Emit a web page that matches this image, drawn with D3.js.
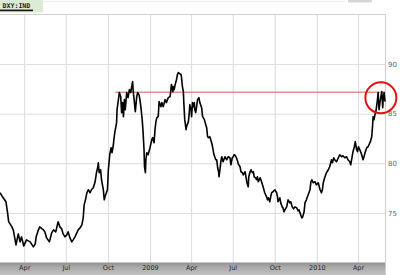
<!DOCTYPE html>
<html><head><meta charset="utf-8">
<script src="https://cdn.jsdelivr.net/npm/d3@7"></script>
<style>body{margin:0;background:#fff}svg{display:block}</style>
</head><body>
<svg id="c" width="400" height="275"></svg>
<script>
const symbol = "DXY:IND";
const startDate = "2008-02-08";
const endDate = "2010-05-30";
// trading days, as day offsets from startDate
const dayOffsets = [
0,7,13,16,19,22,26,29,35,40,44,47,52,58,66,73,77,79,84,87,92,95,98,102,108,113,117,122,127,131,135,138,142,
146,149,153,157,160,164,168,171,175,179,182,184,187,190,193,197,200,204,208,211,214,215,217,220,222,226,228,231,235,237,239,240,243,245,248,249,
251,255,256,259,261,264,266,268,270,272,274,277,280,283,286,288,290,291,294,296,299,301,304,306,308,311,313,315,316,318,319,321,324,328,332,334,337,339,341,343,346,348,352,354,357,361,364,368,372,
373,375,378,379,381,383,385,386,388,390,393,396,397,399,401,402,404,407,408,412,414,415,418,419,421,423,425,426,428,430,432,435,437,441,443,447,450,452,454,456,459,461,464,466,468,472,474,476,478,479,481,483,485,488,492,496,499,503,
505,508,510,512,515,517,520,521,525,527,530,532,536,538,540,543,544,547,549,552,554,556,559,561,563,565,567,569,572,576,579,583,585,587,590,592,594,597,601,605,607,608,612,614,617,619,621,623,627,630,634,636,639,642,645,649,652,654,657,660,662,665,
667,670,674,678,680,682,685,689,692,696,700,703,705,707,710,714,718,721,725,727,730,732,736,740,743,
747,750,754,758,761,765,767,769,772,775,777,780,782,784,787,791,794,796,799,802,805,807,810,813,815,816,818,820,822,825,827,829,831,833,835,837,838,840,842
];
const dxyValues = [
77.03,76.52,76.12,75.21,74.10,73.89,73.59,73.29,71.77,72.88,72.08,72.58,71.67,72.28,72.08,71.57,71.87,72.58,73.29,73.59,73.39,73.29,73.09,72.48,72.08,72.98,73.29,73.09,74.10,73.59,73.39,72.88,72.58,
72.78,73.09,72.48,72.08,72.28,72.58,72.98,73.29,73.49,73.79,74.50,75.81,76.32,77.03,77.33,77.03,77.33,77.53,78.14,79.05,79.65,80.06,79.05,79.35,78.34,77.33,76.32,76.82,77.33,79.35,80.36,80.86,81.57,81.07,81.87,82.38,
83.09,84.10,85.41,86.42,87.13,86.72,85.11,86.12,84.70,86.42,85.41,87.13,86.62,87.43,87.13,87.73,88.24,87.43,86.12,85.21,86.72,87.13,86.92,86.42,85.71,84.40,83.09,81.37,79.65,79.05,80.36,81.07,80.86,81.57,82.38,82.58,82.08,83.39,84.20,84.60,84.70,86.22,85.71,86.12,85.71,86.42,86.12,86.62,86.72,
87.13,87.93,87.23,87.73,87.43,87.93,88.24,88.44,88.94,89.15,89.05,88.94,88.64,87.73,87.23,86.12,84.40,83.39,83.69,84.20,85.11,85.91,85.41,84.70,86.12,85.71,86.12,85.41,85.11,85.71,86.42,86.62,86.12,85.61,84.70,84.40,83.89,83.59,82.68,82.58,82.68,82.38,81.87,81.37,80.86,80.36,80.36,79.55,79.15,78.64,79.35,80.16,80.66,80.16,80.66,80.36,80.66,80.56,
79.85,80.56,80.66,80.86,80.76,80.56,80.16,79.95,79.65,79.15,79.05,78.84,79.15,78.64,78.04,77.63,78.64,79.15,79.35,79.05,79.15,78.64,78.54,78.34,78.64,78.14,78.34,78.54,78.14,77.53,77.03,76.62,76.32,76.52,76.12,76.62,77.03,77.13,77.33,77.03,76.62,76.12,76.52,76.01,75.61,75.51,75.11,75.31,75.61,76.32,76.01,76.12,75.61,75.41,75.61,75.51,75.21,75.31,74.90,74.50,74.60,75.11,
76.01,76.32,76.82,77.33,78.14,78.34,78.04,78.14,77.83,78.04,77.33,77.03,77.33,78.04,78.54,79.05,79.35,79.65,80.36,80.06,80.56,80.36,80.16,80.56,80.86,
80.66,80.76,80.56,80.66,80.36,80.16,79.85,80.36,81.17,81.67,82.18,81.37,81.17,81.67,81.37,80.86,80.36,80.66,81.17,81.57,81.67,81.87,82.18,82.68,83.89,84.70,84.40,84.90,85.21,86.22,87.13,85.41,86.12,86.72,87.23,85.61,86.42,87.13,86.22
];
const xTickDates = ["2008-04-01","2008-07-01","2008-10-01","2009-01-01","2009-04-01","2009-07-01","2009-10-01","2010-01-01","2010-04-01"];
const xTickLabels = ["Apr","Jul","Oct","2009","Apr","Jul","Oct","2010","Apr"];
const yTicks = [75, 80, 85, 90];
const yDomain = [70, 95];
const resistanceLevel = 87.17;
const resistanceStartDay = 252;
const highlightDay = 833;
const highlightValue = 86.6;

const parse = d3.timeParse("%Y-%m-%d");
const t0 = parse(startDate);
const data = d3.zip(dayOffsets, dxyValues).map(([d, v]) => ({date: d3.timeDay.offset(t0, d), value: v}));
const tickDates = xTickDates.map(parse);

const W = 400, H = 275;
const plotL = 0, plotR = 385, plotT = 14.5, plotB = 262.5;

const x = d3.scaleTime().domain([t0, parse(endDate)]).range([plotL, plotR]);
const y = d3.scaleLinear().domain(yDomain).range([plotB, plotT]);

const svg = d3.select("#c");
const defs = svg.append("defs");
const g1 = defs.append("linearGradient").attr("id", "band").attr("x1", 0).attr("y1", 0).attr("x2", 0).attr("y2", 1);
g1.append("stop").attr("offset", "0%").attr("stop-color", "#8f8f8f");
g1.append("stop").attr("offset", "35%").attr("stop-color", "#a9a9a9");
g1.append("stop").attr("offset", "100%").attr("stop-color", "#c2c2c2");

svg.append("rect").attr("width", W).attr("height", H).attr("fill", "#fff");

// header
svg.append("rect").attr("x", 0).attr("y", 0).attr("width", 43).attr("height", 12.5).attr("fill", "#dcebd4");
svg.append("line").attr("x1", 43).attr("x2", 345).attr("y1", 1.5).attr("y2", 1.5).attr("stroke", "#ececec");
svg.append("rect").attr("x", 348).attr("y", 0).attr("width", 24).attr("height", 2.5).attr("fill", "#d6d6d6");
svg.append("text").attr("x", 2.5).attr("y", 8).text(symbol)
  .attr("font-family", "DejaVu Sans Mono").attr("font-weight", "bold").attr("font-size", 6.6).attr("fill", "#222");
svg.append("rect").attr("x", 0).attr("y", 9.6).attr("width", 33).attr("height", 1.6).attr("fill", "#111");

// grid
const grid = svg.append("g");
grid.append("g").attr("transform", `translate(0,${plotB})`)
  .call(d3.axisBottom(x).tickValues(tickDates).tickSize(-(plotB - plotT)).tickFormat(""))
  .call(g => g.select(".domain").remove())
  .call(g => g.selectAll("line").attr("stroke", "#dcdcdc").attr("stroke-width", 1));
grid.append("g").attr("transform", `translate(${plotL},0)`)
  .call(d3.axisRight(y).tickValues(yTicks).tickSize(plotR - plotL).tickFormat(""))
  .call(g => g.select(".domain").remove())
  .call(g => g.selectAll("line").attr("stroke", "#dcdcdc").attr("stroke-width", 1));

// frame (top and right)
svg.append("line").attr("x1", 0).attr("x2", plotR + 0.5).attr("y1", plotT).attr("y2", plotT).attr("stroke", "#cfcfcf");
svg.append("line").attr("x1", plotR + 0.5).attr("x2", plotR + 0.5).attr("y1", plotT).attr("y2", H).attr("stroke", "#cfcfcf");

// bottom band
svg.append("rect").attr("x", 0).attr("y", plotB).attr("width", plotR).attr("height", H - plotB).attr("fill", "url(#band)");

// x axis labels
svg.append("g").attr("transform", `translate(0,${plotB})`)
  .call(d3.axisBottom(x).tickValues(tickDates).tickSize(0).tickPadding(3.2).tickFormat((d, i) => xTickLabels[i]))
  .call(g => g.select(".domain").remove())
  .call(g => g.selectAll("text").attr("font-family", "DejaVu Sans").attr("font-size", 6.5).attr("fill", "#2a2a2a"));

// y axis labels
svg.append("g").attr("transform", `translate(${plotR},0)`)
  .call(d3.axisRight(y).tickValues(yTicks).tickSize(0).tickPadding(3))
  .call(g => g.select(".domain").remove())
  .call(g => g.selectAll("text").attr("font-family", "DejaVu Sans").attr("font-size", 7).attr("fill", "#666"));

// resistance line
svg.append("line")
  .attr("x1", x(d3.timeDay.offset(t0, resistanceStartDay))).attr("x2", plotR)
  .attr("y1", y(resistanceLevel)).attr("y2", y(resistanceLevel))
  .attr("stroke", "#d35a5a").attr("stroke-width", 1);

// price line
svg.append("path").datum(data)
  .attr("d", d3.line().x(d => x(d.date)).y(d => y(d.value)))
  .attr("fill", "none").attr("stroke", "#000").attr("stroke-width", 1.6)
  .attr("stroke-linejoin", "round");

// highlight circle
svg.append("circle")
  .attr("cx", x(d3.timeDay.offset(t0, highlightDay))).attr("cy", y(highlightValue)).attr("r", 15.5)
  .attr("fill", "none").attr("stroke", "#e01010").attr("stroke-width", 2);
</script>
</body></html>
